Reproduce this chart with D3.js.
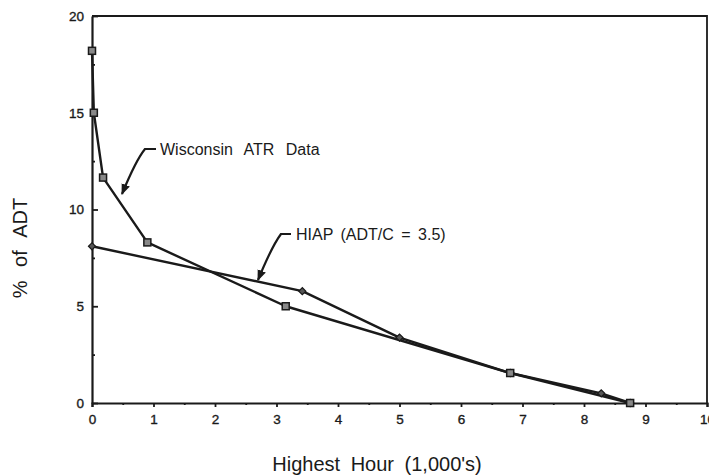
<!DOCTYPE html>
<html>
<head>
<meta charset="utf-8">
<script src="https://cdn.jsdelivr.net/npm/d3@7"></script>
<style>
  body { margin: 0; background: #fff; }
  svg { display: block; font-family: "Liberation Sans", Arial, sans-serif; }
</style>
</head>
<body>
<svg id="chart" width="709" height="476"></svg>
<script>
// Wisconsin ATR data (squares)
var atrHours = [0, 0.03, 0.18, 0.9, 3.15, 6.8, 8.75];
var atrPct   = [18.2, 15.0, 11.65, 8.3, 5.0, 1.55, 0];
// HIAP (ADT/C = 3.5) (diamonds)
var hiapHours = [0, 3.42, 5.0, 6.8, 8.28, 8.75];
var hiapPct   = [8.1, 5.78, 3.38, 1.55, 0.5, 0];

var xTicks = [0, 1, 2, 3, 4, 5, 6, 7, 8, 9, 10];
var yTicks = [0, 5, 10, 15, 20];

var svg = d3.select("#chart");
var x = d3.scaleLinear().domain([0, 10]).range([92, 707]);
var y = d3.scaleLinear().domain([0, 20]).range([403, 16]);
var ink = "#1a1a1a";

// frame (top + right)
svg.append("path")
  .attr("d", `M${x(0)},${y(20)} L${x(10)},${y(20)} L${x(10)},${y(0)}`)
  .attr("fill", "none").attr("stroke", ink).attr("stroke-width", 1.8);

// x axis
var xAxis = svg.append("g").attr("transform", `translate(0,${y(0)})`)
  .call(d3.axisBottom(x).tickValues(xTicks).tickFormat(d3.format("d")).tickSize(4).tickPadding(7));
svg.append("g").attr("transform", `translate(0,${y(0)})`)
  .call(d3.axisBottom(x).tickValues(d3.range(0.5, 10, 1)).tickSize(2).tickFormat(""))
  .select(".domain").remove();

// y axis
var yAxis = svg.append("g").attr("transform", `translate(${x(0)},0)`)
  .call(d3.axisLeft(y).tickValues(yTicks).tickSizeInner(-6).tickSizeOuter(0).tickPadding(14));
svg.append("g").attr("transform", `translate(${x(0)},0)`)
  .call(d3.axisLeft(y).tickValues([2.5, 7.5, 12.5, 17.5]).tickSize(-3).tickFormat(""))
  .select(".domain").remove();

svg.selectAll(".domain").attr("stroke", ink).attr("stroke-width", 2.2);
svg.selectAll(".tick line").attr("stroke", ink).attr("stroke-width", 1.8);
svg.selectAll(".tick text").attr("fill", ink).attr("font-size", 13.5)
  .attr("stroke", ink).attr("stroke-width", 0.35)
  .attr("font-family", "Liberation Sans, Arial, sans-serif");
yAxis.selectAll(".tick text").attr("dx", 6);

// axis titles
svg.append("text").attr("x", 377).attr("y", 471).attr("text-anchor", "middle")
  .attr("font-size", 20).attr("fill", ink).attr("word-spacing", 5)
  .text("Highest Hour (1,000's)");
svg.append("text").attr("transform", "translate(27,248) rotate(-90)")
  .attr("text-anchor", "middle").attr("font-size", 20).attr("fill", ink)
  .attr("word-spacing", 8)
  .text("% of ADT");

// series lines
var line = d3.line().x(d => x(d[0])).y(d => y(d[1]));
var atr = d3.zip(atrHours, atrPct);
var hiap = d3.zip(hiapHours, hiapPct);
[atr, hiap].forEach(function(s){
  svg.append("path").datum(s).attr("d", line)
    .attr("fill", "none").attr("stroke", ink).attr("stroke-width", 2.4)
    .attr("stroke-linejoin", "round");
});

// markers
svg.selectAll(".dmd").data(hiap).enter().append("path")
  .attr("class", "dmd")
  .attr("transform", d => `translate(${x(d[0])},${y(d[1])}) rotate(45)`)
  .attr("d", "M-2.5,-2.5 h5 v5 h-5 Z")
  .attr("fill", "#555").attr("stroke", ink).attr("stroke-width", 1.2);
svg.selectAll(".sq").data(atr).enter().append("rect")
  .attr("class", "sq")
  .attr("x", d => x(d[0]) - 3.5).attr("y", d => y(d[1]) - 3.5)
  .attr("width", 7).attr("height", 7)
  .attr("fill", "#888").attr("stroke", ink).attr("stroke-width", 1.5);

// annotations with leader arrows
svg.append("defs").append("marker")
  .attr("id", "arr").attr("viewBox", "0 0 10 10").attr("refX", 9).attr("refY", 5)
  .attr("markerWidth", 5).attr("markerHeight", 5).attr("orient", "auto")
  .append("path").attr("d", "M0,1 L10,5 L0,9 Z").attr("fill", ink);

svg.append("path")
  .attr("d", "M156,149 L145,149 Q136,160 122,194")
  .attr("fill", "none").attr("stroke", ink).attr("stroke-width", 2.2)
  .attr("marker-end", "url(#arr)");
svg.append("text").attr("x", 160).attr("y", 155).attr("font-size", 16)
  .attr("fill", ink).attr("word-spacing", 7)
  .text("Wisconsin ATR Data");

svg.append("path")
  .attr("d", "M291,234 L281,234 Q272,246 258,280")
  .attr("fill", "none").attr("stroke", ink).attr("stroke-width", 2.2)
  .attr("marker-end", "url(#arr)");
svg.append("text").attr("x", 296).attr("y", 240).attr("font-size", 16)
  .attr("fill", ink).attr("word-spacing", 3)
  .text("HIAP (ADT/C = 3.5)");
</script>
</body>
</html>
